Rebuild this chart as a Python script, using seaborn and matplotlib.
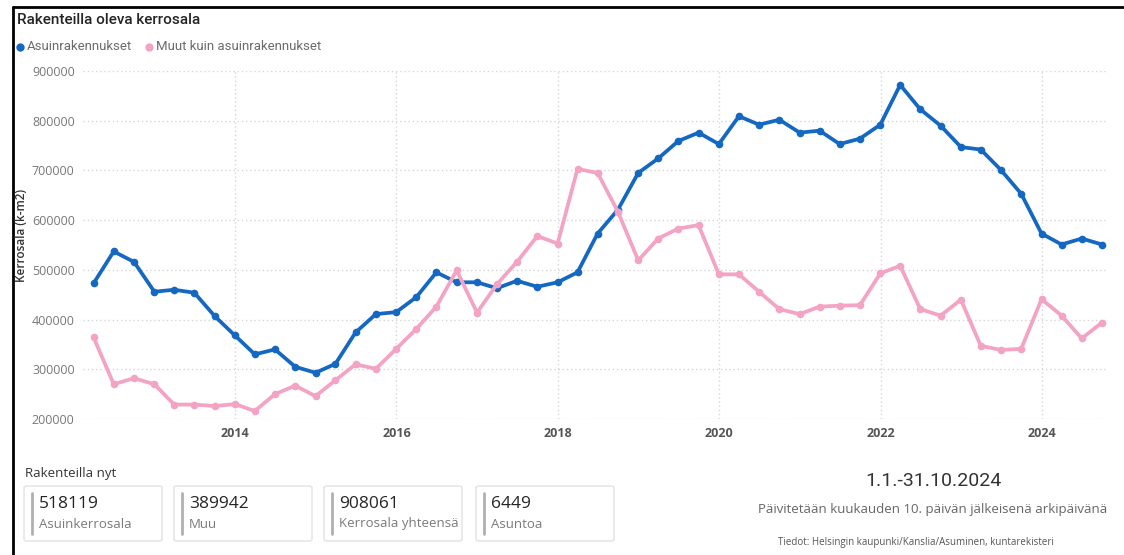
import matplotlib
matplotlib.use("Agg")
import matplotlib.pyplot as plt
import matplotlib.dates as mdates
from matplotlib.patches import FancyBboxPatch
from matplotlib.lines import Line2D
import matplotlib.ticker as mticker
import numpy as np
import pandas as pd
import seaborn as sns

# Quarterly floor area under construction (k-m2), 2012Q1 .. 2024Q3
quarters = pd.period_range("2012Q1", "2024Q3", freq="Q")
asuin = [473000, 537000, 516000, 456000,
         460000, 454000, 407000, 368000,
         330000, 340000, 305000, 293000,
         311000, 374000, 411000, 415000,
         445000, 495000, 475000, 475000,
         463000, 478000, 466000, 475000,
         495000, 573000, 621000, 695000,
         724000, 759000, 776000, 753000,
         809000, 792000, 802000, 776000,
         780000, 753000, 764000, 792000,
         872000, 823000, 790000, 747000,
         742000, 701000, 653000, 573000,
         551000, 563000, 551000]
muut = [364000, 270000, 282000, 270000,
        229000, 229000, 226000, 230000,
        216000, 250000, 267000, 246000,
        278000, 310000, 301000, 341000,
        381000, 426000, 499000, 414000,
        471000, 516000, 568000, 553000,
        703000, 695000, 617000, 519000,
        563000, 583000, 590000, 491000,
        491000, 456000, 421000, 411000,
        426000, 428000, 429000, 493000,
        508000, 421000, 408000, 440000,
        347000, 339000, 341000, 441000,
        408000, 362000, 394000]
series_names = ["Asuinrakennukset", "Muut kuin asuinrakennukset"]
colors = ["#1468c2", "#f3a3c4"]
y_ticks = [200000, 300000, 400000, 500000, 600000, 700000, 800000, 900000]
x_years = [2014, 2016, 2018, 2020, 2022, 2024]

card_values = ["518119", "389942", "908061", "6449"]
card_labels = ["Asuinkerrosala", "Muu", "Kerrosala yhteensä", "Asuntoa"]

dates = quarters.to_timestamp(how="end").normalize()
df = pd.DataFrame({
    "date": np.concatenate([dates, dates]),
    "value": asuin + muut,
    "series": [series_names[0]] * len(asuin) + [series_names[1]] * len(muut),
})

sns.set_style("white")
plt.rcParams["font.family"] = ["Open Sans", "DejaVu Sans"]

W, H = 1124, 555
fig = plt.figure(figsize=(W / 100, H / 100), dpi=100)


def fx(px):
    return px / W


def fy(py):
    return 1 - py / H


ax = fig.add_axes([fx(83), fy(419), fx(1108 - 83), (419 - 71) / H])
sns.lineplot(data=df, x="date", y="value", hue="series",
             palette=dict(zip(series_names, colors)), hue_order=series_names,
             marker="o", markersize=5.5, markeredgewidth=0, linewidth=2.7,
             legend=False, ax=ax, clip_on=False)

ax.set_xlim(pd.Timestamp("2012-02-12"), pd.Timestamp("2024-10-27"))
ax.set_ylim(200000, 900000)
ax.set_yticks(y_ticks)
ax.yaxis.set_major_formatter(mticker.FuncFormatter(lambda v, p: f"{int(v)}"))
ax.set_xticks([pd.Timestamp(f"{y}-01-01") for y in x_years])
ax.xaxis.set_major_formatter(mdates.DateFormatter("%Y"))
ax.grid(True, color="#d6d6d6", linestyle=(0, (1, 2)), linewidth=1)
for s in ax.spines.values():
    s.set_visible(False)
ax.tick_params(axis="y", length=0, pad=6, labelsize=9, labelcolor="#777777")
ax.tick_params(axis="x", length=0, pad=6, labelsize=9, labelcolor="#555555")
for t in ax.get_xticklabels():
    t.set_fontweight("bold")
ax.set_xlabel("")
ax.set_ylabel("")

# Frame lines
fig.add_artist(Line2D([fx(13), 1], [fy(7), fy(7)], color="black", lw=2))
fig.add_artist(Line2D([fx(13), fx(13)], [fy(7), 0], color="black", lw=2))

# Title and legend
fig.text(fx(17), fy(20), "Rakenteilla oleva kerrosala", fontsize=11,
         color="#252525", va="center", family=["Roboto", "DejaVu Sans"], fontweight="medium")
fig.text(fx(22), fy(235), "Kerrosala (k-m2)", rotation=90, fontsize=8.5,
         color="#333333", va="center", ha="center", fontweight="semibold")
legend_x = [20, 149]
for lx, name, c in zip(legend_x, series_names, colors):
    fig.add_artist(Line2D([fx(lx)], [fy(47)], marker="o", markersize=6,
                          markeredgewidth=0, color=c))
    fig.text(fx(lx + 7), fy(47), name, fontsize=9.5, color="#6b6b6b",
             va="center", family=["Roboto", "DejaVu Sans"])

# KPI cards
fig.text(fx(25), fy(474), "Rakenteilla nyt", fontsize=9.5, color="#333333", va="center")
card_x = [24, 174, 324, 476]
for cx, val, lab in zip(card_x, card_values, card_labels):
    box = FancyBboxPatch((fx(cx), fy(541)), fx(138), (541 - 486) / H,
                         boxstyle="round,pad=0,rounding_size=0.003",
                         transform=fig.transFigure, facecolor="white",
                         edgecolor="#e6e6e6", linewidth=1.2)
    fig.add_artist(box)
    fig.add_artist(Line2D([fx(cx + 8), fx(cx + 8)], [fy(493), fy(534)],
                          color="#b0b0b0", lw=2))
    fig.text(fx(cx + 15), fy(504), val, fontsize=12.5, color="#252525", va="center")
    fig.text(fx(cx + 15), fy(524), lab, fontsize=9.5, color="#7a7a7a", va="center")

# Period and source notes
fig.text(fx(933), fy(481), "1.1.-31.10.2024", fontsize=14, color="#333333",
         ha="center", va="center", family=["Roboto", "DejaVu Sans"])
fig.text(fx(933), fy(509), "Päivitetään kuukauden 10. päivän jälkeisenä arkipäivänä",
         fontsize=9.5, color="#666666", ha="center", va="center")
fig.text(fx(916), fy(543), "Tiedot: Helsingin kaupunki/Kanslia/Asuminen, kuntarekisteri",
         fontsize=7, color="#555555", ha="center", va="center")

fig.savefig("out.png", dpi=100)
